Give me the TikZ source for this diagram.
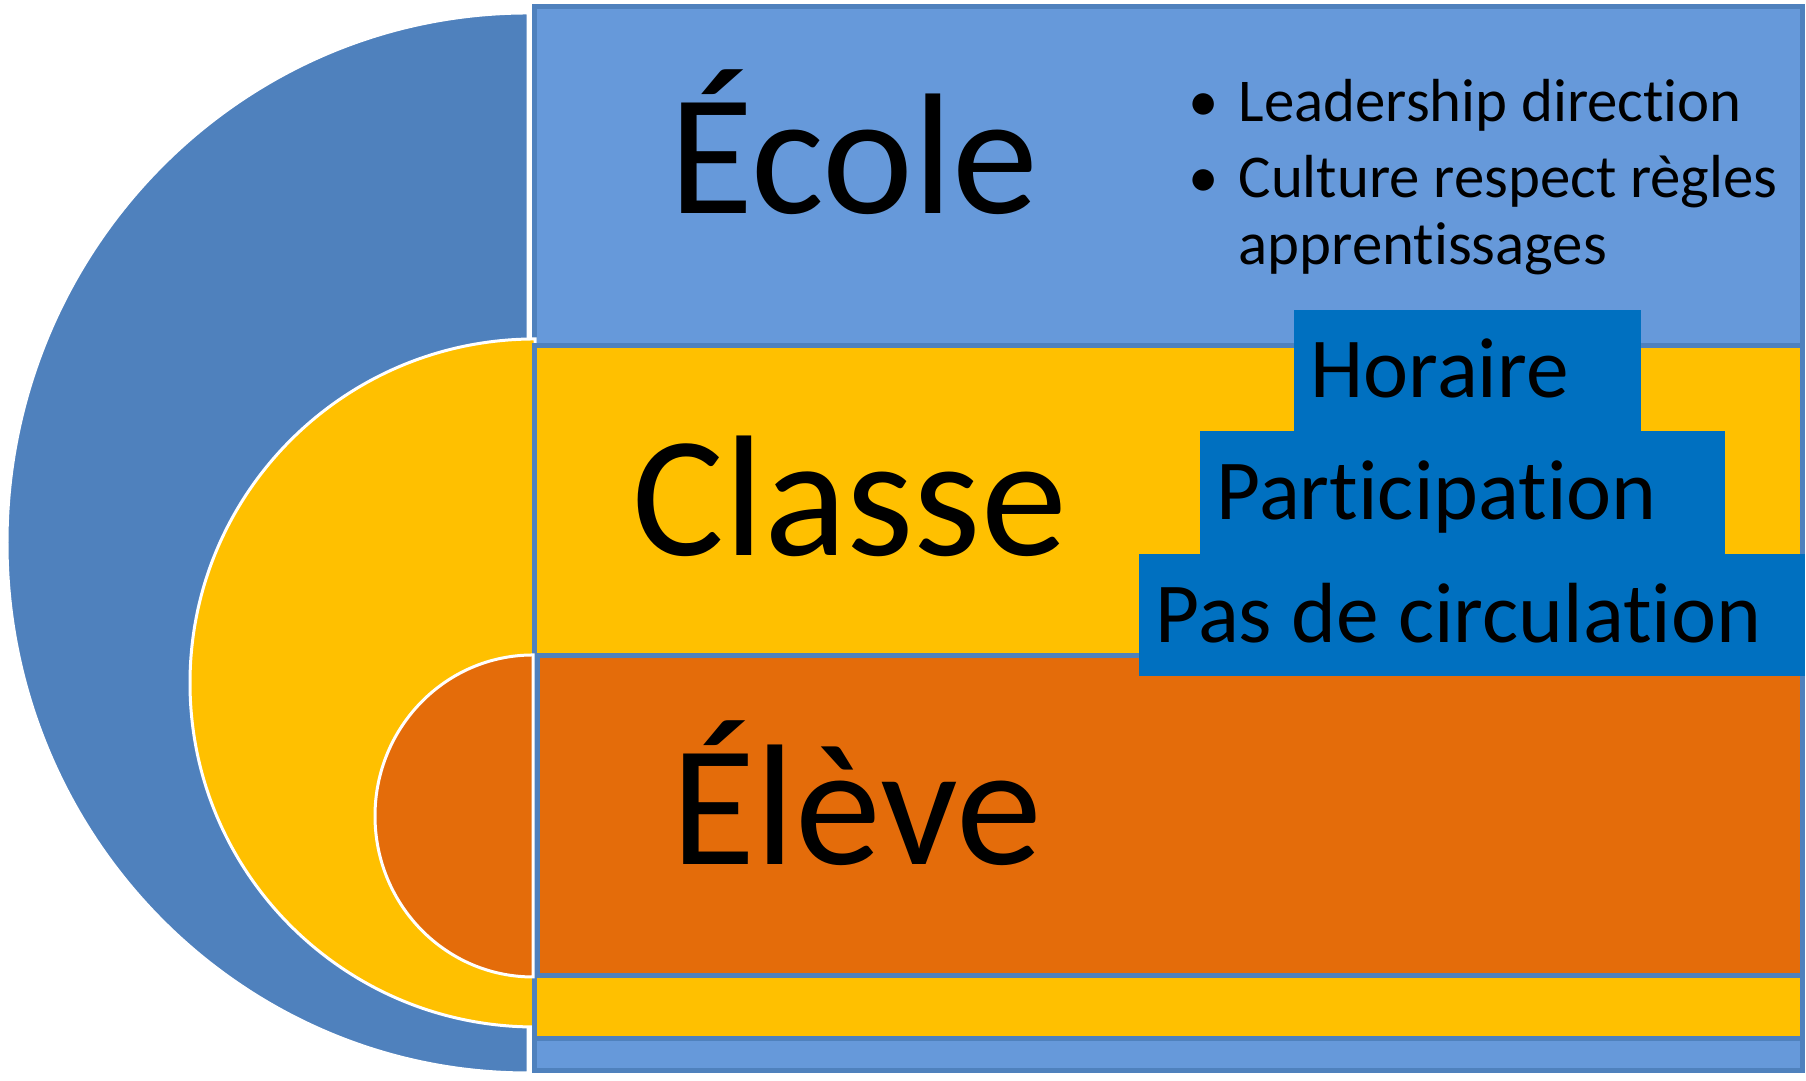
\documentclass[tikz,border=0pt]{standalone}
\usepackage{fontspec}
\setmainfont{Carlito}[Ligatures={NoCommon}]
\usepackage{xcolor}
\definecolor{bleucl}{RGB}{102,153,218}
\definecolor{bleufc}{RGB}{79,129,189}
\definecolor{jaunecl}{RGB}{255,192,0}
\definecolor{orangecl}{RGB}{228,108,10}
\definecolor{bleuetq}{RGB}{0,112,192}
\usepackage{tikz}
\usetikzlibrary{positioning}
\newcommand{\puce}{\llap{\textbullet\hspace{0.2cm}}}

\begin{document}
\begin{tikzpicture}[
    bord/.style={draw=bleufc, line width=0.05cm},
    demi/.style={draw=white, line width=0.03cm},
    etiquette/.style={fill=bleuetq, anchor=north west, inner xsep=0.17cm, inner ysep=0.1cm,
        text height=0.7cm, text depth=0.15cm, font=\fontsize{24.3}{26}\selectfont},
    mot/.style={anchor=base, font=\fontsize{49}{50}\selectfont},
    ligne/.style={anchor=base west, inner sep=0pt, font=\fontsize{17.3}{19}\selectfont}]
    \useasboundingbox (0,0) rectangle (18.06,10.81);
    % Demi-disque et cadre de l'école
    \filldraw[demi, fill=bleufc] (5.28,10.68) arc[start angle=90, end angle=270, x radius=5.21, y radius=5.30] -- cycle;
    \filldraw[bord, fill=bleucl] (5.345,10.745) rectangle (18.025,0.105);
    % Classe
    \filldraw[demi, fill=jaunecl] (5.35,7.42) arc[start angle=90, end angle=270, x radius=3.45, y radius=3.44] -- cycle;
    \filldraw[bord, fill=jaunecl] (5.345,7.355) rectangle (18.025,0.425);
    % Élève
    \filldraw[demi, fill=orangecl] (5.33,4.26) arc[start angle=90, end angle=270, x radius=1.58, y radius=1.61] -- cycle;
    \filldraw[bord, fill=orangecl] (5.37,4.25) rectangle (18.025,1.05);
    % Les trois niveaux
    \node[mot] (ecole) at (8.54,8.67) {École};
    \node[mot] (classe) at (8.50,5.25) {Classe};
    \node[mot] (eleve) at (8.57,2.16) {Élève};
    % Puces de l'école
    \node[ligne] (leader) at (12.38,9.59) {\puce Leadership direction};
    \node[ligne] (culture) at (12.38,8.83) {\puce Culture respect règles};
    \node[ligne] (apprent) at (12.38,8.16) {apprentissages};
    % Étiquettes en escalier
    \foreach \nom/\x/\y/\w/\h/\txt in {horaire/12.93/7.72/3.47/1.21/Horaire,
        particip/11.99/6.51/5.25/1.23/Participation,
        circul/11.38/5.28/6.66/1.22/Pas de circulation} {
        \pgfmathsetmacro{\tw}{\w-0.34}
        \node[etiquette, minimum width=\w cm, minimum height=\h cm] (\nom) at (\x,\y) {\makebox[\tw cm][l]{\txt}};
    }
\end{tikzpicture}
\end{document}
